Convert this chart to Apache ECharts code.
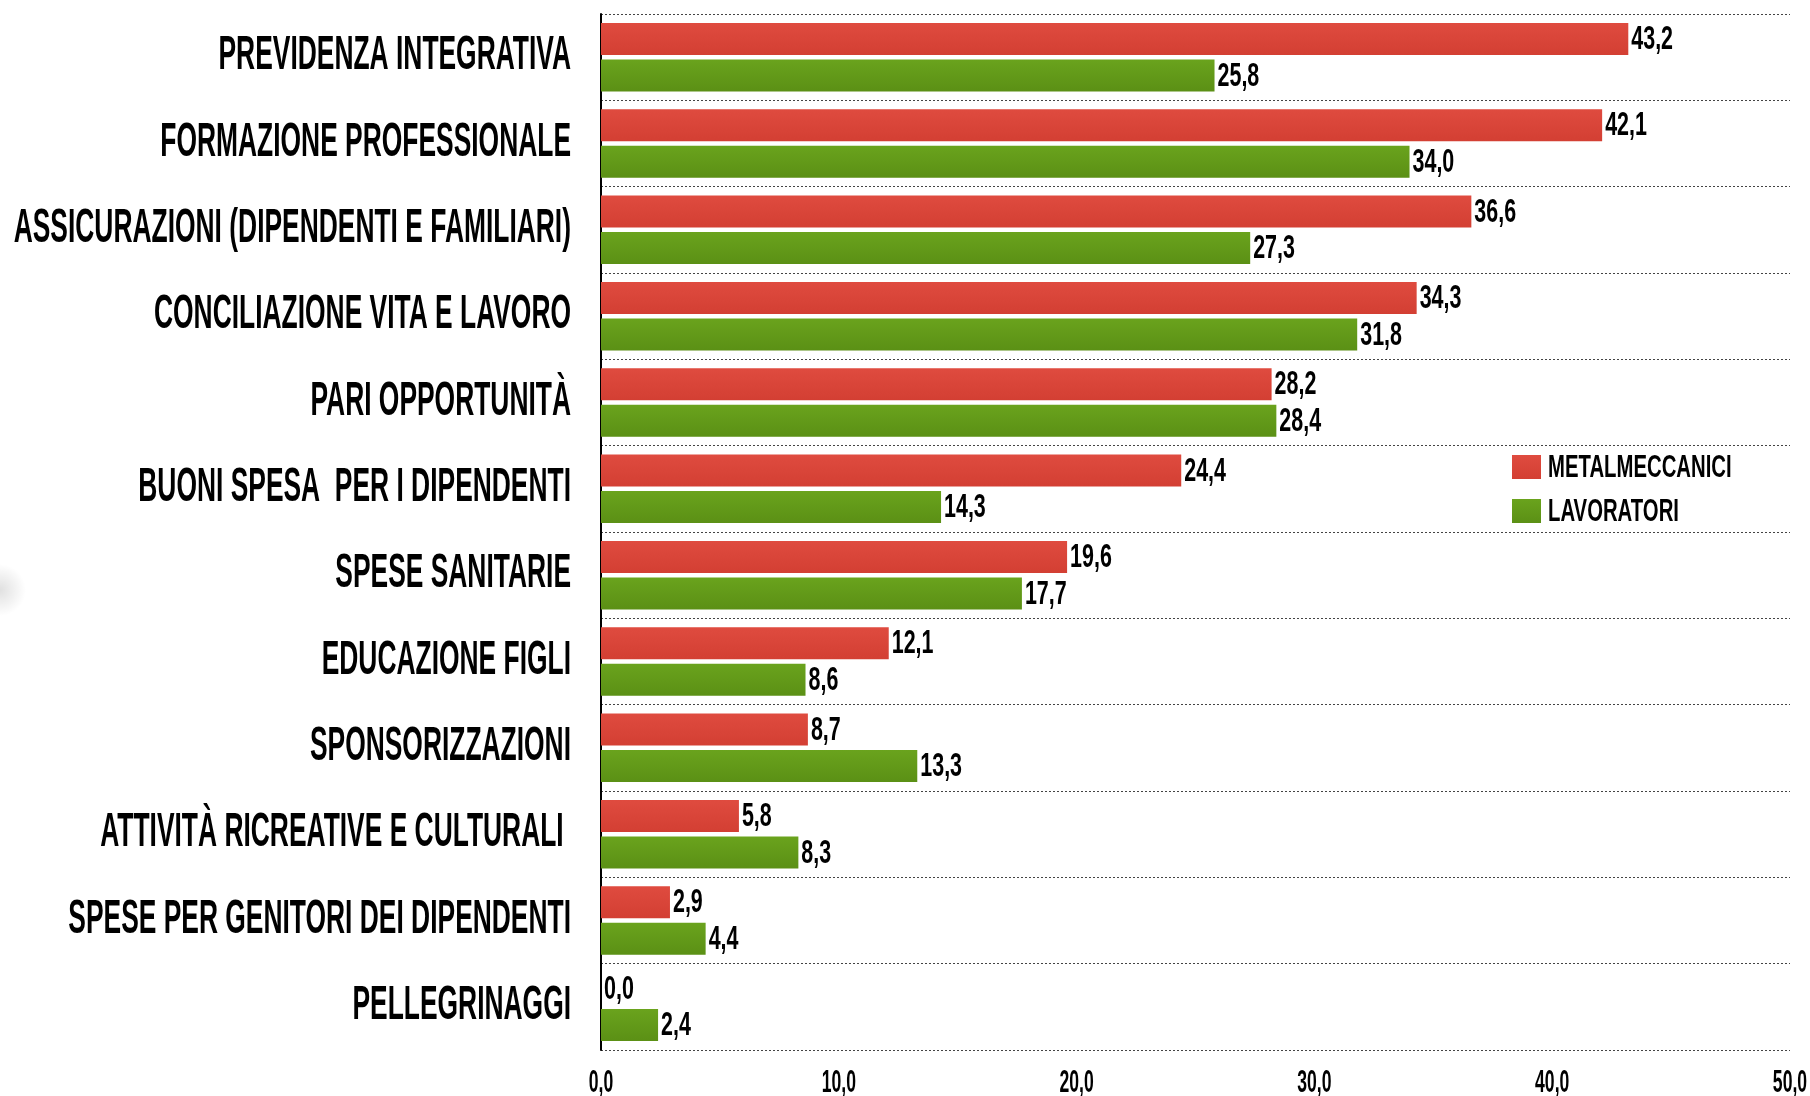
<!DOCTYPE html>
<html>
<head>
<meta charset="utf-8">
<script src="https://cdn.jsdelivr.net/npm/echarts@6/dist/echarts.min.js"></script>
<style>
  html, body { margin: 0; padding: 0; background: #fff; }
  #chart { width: 1810px; height: 1096px; }
</style>
</head>
<body>
<div id="chart"></div>
<script>
var categories = [
  'PREVIDENZA INTEGRATIVA',
  'FORMAZIONE PROFESSIONALE',
  'ASSICURAZIONI (DIPENDENTI E FAMILIARI)',
  'CONCILIAZIONE VITA E LAVORO',
  'PARI OPPORTUNITÀ',
  'BUONI SPESA  PER I DIPENDENTI',
  'SPESE SANITARIE',
  'EDUCAZIONE FIGLI',
  'SPONSORIZZAZIONI',
  'ATTIVITÀ RICREATIVE E CULTURALI ',
  'SPESE PER GENITORI DEI DIPENDENTI',
  'PELLEGRINAGGI'
];
var seriesNames = ['METALMECCANICI', 'LAVORATORI'];
var metalmeccanici = [43.2, 42.1, 36.6, 34.3, 28.2, 24.4, 19.6, 12.1, 8.7, 5.8, 2.9, 0.0];
var lavoratori = [25.8, 34.0, 27.3, 31.8, 28.4, 14.3, 17.7, 8.6, 13.3, 8.3, 4.4, 2.4];
var xTicks = [0, 10, 20, 30, 40, 50];

var FONT = '"Liberation Sans", Arial, sans-serif';
var LEG = { left: 1512, top: 455, w: 29, h: 24, gap: 20 };

function comma(v) {
  return Number(v).toFixed(1).replace('.', ',');
}

function grad(top, bottom) {
  return new echarts.graphic.LinearGradient(0, 0, 0, 1, [
    { offset: 0, color: top },
    { offset: 1, color: bottom }
  ]);
}

// condensed look: regular font squeezed horizontally
function squeezed(text, x, y, size, sx, align) {
  return {
    type: 'text',
    x: x,
    y: y,
    scaleX: sx,
    silent: true,
    style: {
      text: text,
      textAlign: align,
      textVerticalAlign: 'middle',
      fill: '#000',
      fontFamily: FONT,
      fontWeight: 'bold',
      fontSize: size
    }
  };
}

var chart = echarts.init(document.getElementById('chart'), null, { renderer: 'canvas' });

var option = {
  backgroundColor: '#fff',
  animation: false,
  grid: { left: 601, right: 20, top: 14, bottom: 46 },
  legend: {
    orient: 'vertical',
    left: LEG.left,
    top: LEG.top,
    padding: 0,
    itemWidth: LEG.w,
    itemHeight: LEG.h,
    itemGap: LEG.gap,
    icon: 'rect',
    formatter: function () { return ''; },
    data: seriesNames
  },
  xAxis: {
    type: 'value',
    min: xTicks[0],
    max: xTicks[xTicks.length - 1],
    interval: 10,
    axisLine: { show: false },
    axisTick: { show: false },
    splitLine: { show: false },
    axisLabel: { show: false }
  },
  yAxis: {
    type: 'category',
    inverse: true,
    data: categories,
    axisLine: { show: true, lineStyle: { color: '#000', width: 2 } },
    axisTick: { show: false },
    axisLabel: { show: false },
    splitLine: { show: true, lineStyle: { color: '#444', type: [2, 2], width: 1 } }
  },
  series: [
    {
      name: seriesNames[0],
      type: 'bar',
      data: metalmeccanici,
      barWidth: 32,
      barGap: '14%',
      itemStyle: { color: grad('#df4b3f', '#d33f33') }
    },
    {
      name: seriesNames[1],
      type: 'bar',
      data: lavoratori,
      barWidth: 32,
      barGap: '14%',
      itemStyle: { color: grad('#6aa31d', '#5b9015') }
    }
  ]
};

chart.setOption(option);

var graphics = [];

// faint grey smudge at the left edge
graphics.push({
  type: 'ellipse',
  silent: true,
  shape: { cx: 0, cy: 590, rx: 70, ry: 26 },
  style: {
    fill: new echarts.graphic.RadialGradient(0.5, 0.5, 0.5, [
      { offset: 0, color: 'rgba(0,0,0,0.12)' },
      { offset: 1, color: 'rgba(0,0,0,0)' }
    ])
  }
});

// category labels
var labelRight = chart.convertToPixel({ xAxisIndex: 0 }, 0) - 30;
categories.forEach(function (c) {
  var y = chart.convertToPixel({ yAxisIndex: 0 }, c);
  graphics.push(squeezed(c, labelRight, y - 1, 48, 0.55, 'right'));
});

// x axis tick labels
var axisY = chart.convertToPixel({ yAxisIndex: 0 }, categories[categories.length - 1]);
var band = Math.abs(axisY - chart.convertToPixel({ yAxisIndex: 0 }, categories[categories.length - 2]));
xTicks.forEach(function (v) {
  var x = chart.convertToPixel({ xAxisIndex: 0 }, v);
  graphics.push(squeezed(comma(v), x, axisY + band / 2 + 33, 32, 0.55, 'center'));
});

// value labels at the end of each bar
[metalmeccanici, lavoratori].forEach(function (values, si) {
  var data = chart.getModel().getSeriesByIndex(si).getData();
  values.forEach(function (v, i) {
    var l = data.getItemLayout(i);
    graphics.push(squeezed(comma(v), l.x + l.width + 3, l.y + l.height / 2 + 1, 33, 0.65, 'left'));
  });
});

// legend texts next to the legend swatches
seriesNames.forEach(function (n, i) {
  var y = LEG.top + i * (LEG.h + LEG.gap) + LEG.h / 2 + 1;
  graphics.push(squeezed(n, LEG.left + LEG.w + 7, y, 32, 0.635, 'left'));
});

chart.setOption({ graphic: graphics });
</script>
</body>
</html>
